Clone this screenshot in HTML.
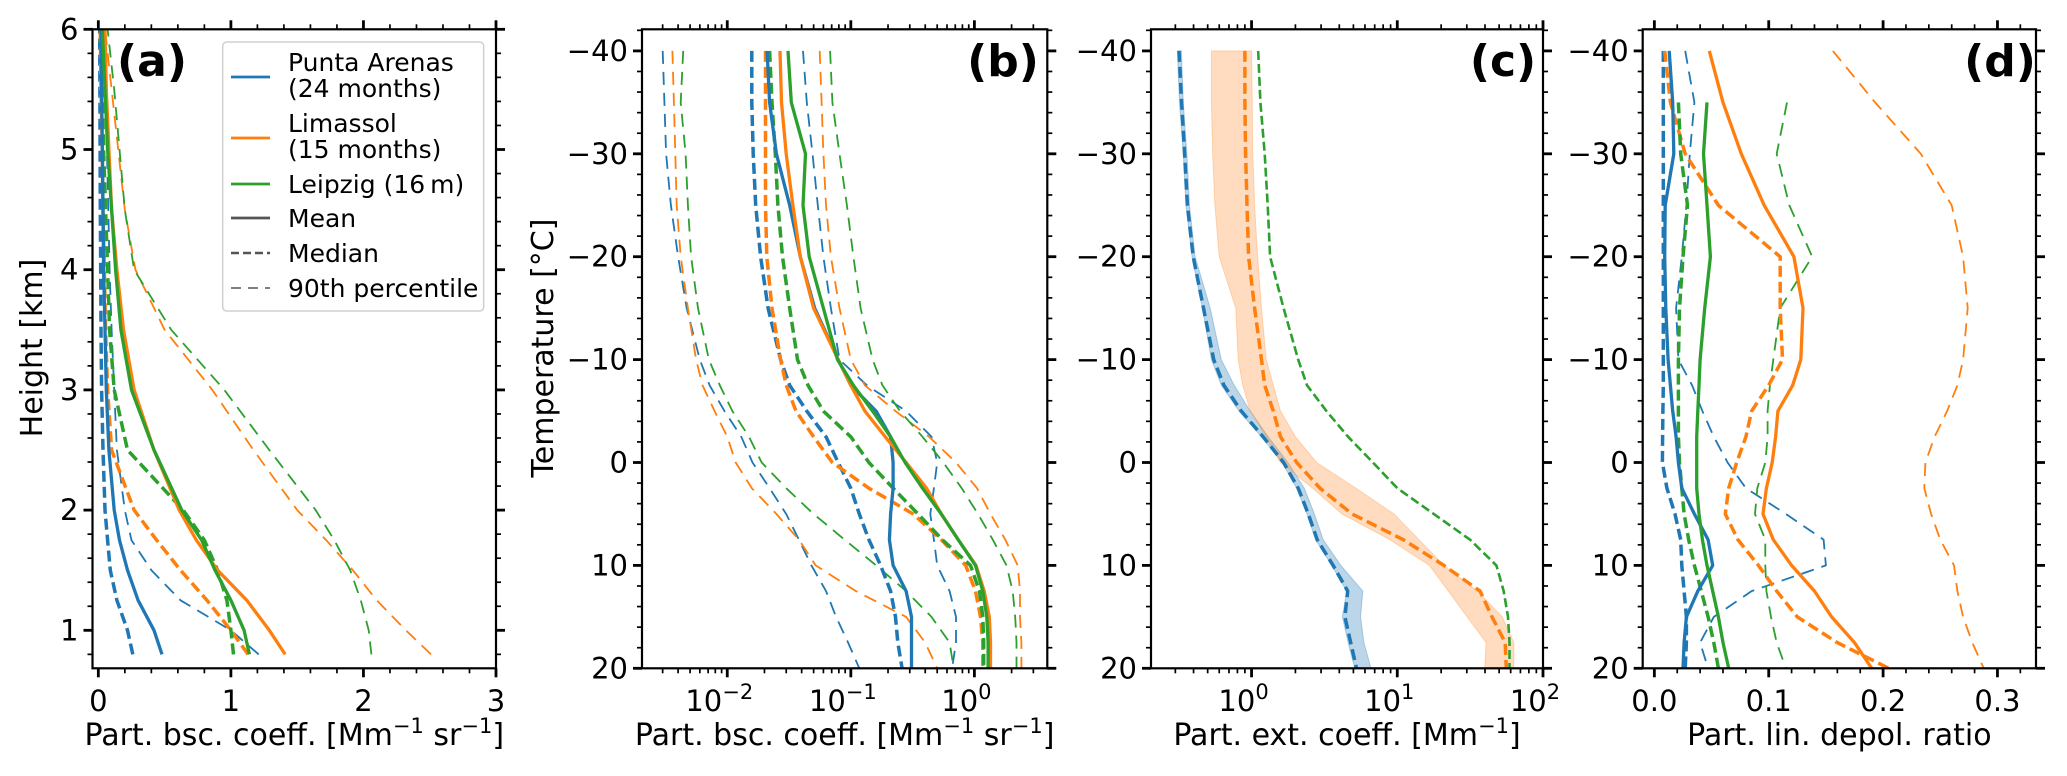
<!DOCTYPE html>
<html><head><meta charset="utf-8"><style>
html,body{margin:0;padding:0;background:#fff;}
svg{display:block;font-family:"DejaVu Sans","Liberation Sans",sans-serif;}
</style></head><body>
<svg id="fig" width="2067" height="776" viewBox="0 0 2067 776" xmlns="http://www.w3.org/2000/svg"></svg>
<script>
// ---------- DATA ----------
const heightsA = [0.8,1.0,1.25,1.5,1.75,2,2.5,3,3.5,4,4.5,5,5.5,6];
const aBlueMean   = [0.48,0.42,0.3,0.22,0.16,0.12,0.08,0.06,0.05,0.04,0.035,0.03,0.025,0.02];
const aBlueMedian = [0.26,0.22,0.14,0.09,0.07,0.05,0.035,0.025,0.02,0.018,0.015,0.013,0.012,0.01];
const aBlueP90    = [1.21,1.0,0.62,0.4,0.25,0.2,0.14,0.12,0.1,0.085,0.075,0.065,0.05,0.04];
const aOrangeMean   = [1.41,1.29,1.12,0.9,0.74,0.61,0.42,0.27,0.19,0.14,0.1,0.08,0.06,0.05];
const aOrangeMedian = [1.13,1.0,0.82,0.62,0.44,0.27,0.1,0.07,0.055,0.045,0.035,0.03,0.02,0.015];
const aOrangeP90    = [2.51,2.32,2.1,1.92,1.72,1.5,1.17,0.86,0.5,0.28,0.2,0.15,0.1,0.05];
const aGreenMean   = [1.14,1.1,1.0,0.88,0.78,0.63,0.42,0.25,0.17,0.13,0.1,0.07,0.05,0.03];
const aGreenMedian = [1.02,1.0,0.97,0.9,0.8,0.64,0.22,0.12,0.085,0.07,0.055,0.04,0.03,0.02];
const aGreenP90    = [2.06,2.04,1.98,1.9,1.78,1.64,1.29,0.95,0.55,0.27,0.2,0.16,0.12,0.07];

const temps = [-40,-35,-30,-25,-20,-15,-10,-7.5,-5,-2.5,0,2.5,5,7.5,10,12.5,15,17.5,20];
// panel b
const bBlueMean   = [0.021,0.022,0.025,0.032,0.039,0.051,0.079,0.10,0.16,0.21,0.22,0.22,0.21,0.205,0.22,0.28,0.31,0.31,0.31];
const bOrangeMean = [0.0267,0.0275,0.030,0.034,0.039,0.050,0.079,0.10,0.13,0.19,0.28,0.41,0.54,0.74,1.03,1.2,1.32,1.35,1.35];
const bGreenMean  = [0.031,0.033,0.043,0.041,0.046,0.060,0.078,0.105,0.15,0.21,0.275,0.38,0.54,0.74,1.02,1.17,1.26,1.29,1.29];
const bBlueMedian   = [0.0158,0.0158,0.0162,0.017,0.0186,0.0214,0.027,0.032,0.044,0.063,0.079,0.10,0.117,0.14,0.174,0.21,0.23,0.24,0.26];
const bOrangeMedian = [0.0204,0.0204,0.0204,0.0204,0.0209,0.023,0.027,0.030,0.036,0.05,0.071,0.14,0.32,0.54,0.85,1.02,1.12,1.17,1.17];
const bGreenMedian  = [0.022,0.023,0.0245,0.0257,0.028,0.032,0.037,0.045,0.060,0.10,0.14,0.22,0.35,0.55,0.93,1.1,1.17,1.19,1.19];
const bBlueP10   = [0.003,0.0031,0.0032,0.0035,0.004,0.0047,0.006,0.0072,0.0095,0.013,0.016,0.022,0.030,0.038,0.048,0.063,0.076,0.095,0.117];
const bOrangeP10 = [0.0036,0.0037,0.0038,0.0039,0.0042,0.0048,0.0056,0.0063,0.0079,0.010,0.0117,0.0158,0.025,0.038,0.052,0.11,0.28,0.40,0.50];
const bGreenP10  = [0.0044,0.0042,0.0046,0.0048,0.0051,0.0058,0.0071,0.0087,0.011,0.015,0.019,0.030,0.050,0.089,0.16,0.28,0.45,0.63,0.68];
const bBlueP90   = [0.041,0.044,0.049,0.054,0.060,0.069,0.081,0.135,0.28,0.45,0.50,0.47,0.44,0.47,0.50,0.63,0.71,0.71,0.66];
const bOrangeP90 = [0.056,0.058,0.060,0.063,0.069,0.081,0.10,0.13,0.23,0.43,0.71,1.05,1.35,1.78,2.24,2.34,2.34,2.4,2.4];
const bGreenP90  = [0.068,0.071,0.081,0.093,0.105,0.12,0.15,0.18,0.25,0.38,0.56,0.79,1.07,1.41,1.82,2.04,2.14,2.19,2.19];
// panel c
const cBlueMedian = [0.318,0.331,0.347,0.363,0.398,0.468,0.55,0.646,0.851,1.2,1.66,2.09,2.45,2.82,3.63,4.57,4.37,4.79,5.25];
const cBlueLo = [0.31,0.32,0.34,0.355,0.39,0.46,0.53,0.62,0.82,1.17,1.62,2.04,2.4,2.75,3.55,4.5,4.2,4.6,5.1];
const cBlueHi = [0.33,0.34,0.36,0.375,0.41,0.52,0.62,0.76,0.98,1.3,1.78,2.3,2.7,3.1,4.1,5.8,5.6,5.9,6.6];
const cOrangeMedian = [0.90,0.90,0.91,0.93,0.955,1.05,1.17,1.23,1.41,1.58,2.04,2.95,4.9,11,20.9,37,44.7,55,56];
const cOrangeLo = [0.53,0.53,0.54,0.56,0.60,0.78,0.81,0.87,0.98,1.26,1.58,2.63,4.17,8.9,16.6,22.4,30.2,40.7,39.8];
const cOrangeHi = [1.0,1.01,1.02,1.05,1.10,1.17,1.26,1.41,1.58,2.0,2.8,5.2,9.5,14.1,20.9,35.5,52.5,63,63];
const cGreenMedian = [1.11,1.15,1.23,1.29,1.34,1.66,2.09,2.4,3.27,4.6,6.8,10,17.8,31.6,47.9,53.7,57.5,58.9,58.9];
// panel d
const dBlueMean   = [0.013,0.016,0.017,0.0095,0.009,0.01,0.012,0.014,0.016,0.019,0.021,0.024,0.035,0.047,0.051,0.038,0.028,0.026,0.025];
const dOrangeMean = [0.048,0.06,0.076,0.096,0.122,0.13,0.128,0.121,0.108,0.106,0.103,0.098,0.095,0.104,0.12,0.14,0.155,0.175,0.19];
const dGreenMean  = [null,0.046,0.043,0.046,0.049,0.044,0.040,0.039,0.038,0.037,0.037,0.037,0.039,0.042,0.046,0.051,0.056,0.06,0.065];
const dBlueMedian   = [0.0078,0.0078,0.0078,0.0078,0.0078,0.0078,0.0078,0.0078,0.0075,0.0072,0.007,0.011,0.018,0.023,0.024,0.026,0.028,0.028,0.027];
const dOrangeMedian = [0.009,0.014,0.027,0.056,0.11,0.11,0.112,0.10,0.085,0.08,0.072,0.065,0.062,0.073,0.091,0.107,0.125,0.16,0.205];
const dGreenMedian  = [null,0.021,0.023,0.029,0.025,0.022,0.021,0.021,0.021,0.021,0.022,0.024,0.026,0.03,0.035,0.041,0.047,0.052,0.056];
const dBlueP90   = [0.027,0.035,0.031,0.028,0.024,0.019,0.021,0.033,0.042,0.052,0.064,0.08,0.115,0.148,0.15,0.085,0.052,0.04,0.047];
const dOrangeP90 = [0.156,0.193,0.233,0.26,0.27,0.274,0.27,0.265,0.256,0.245,0.237,0.236,0.242,0.25,0.262,0.265,0.27,0.278,0.288];
const dGreenP90  = [null,0.116,0.107,0.118,0.138,0.11,0.104,0.101,0.099,0.099,0.097,0.09,0.088,0.097,0.097,0.098,0.102,0.107,0.115];

// ---------- DRAWING ----------
const NS='http://www.w3.org/2000/svg';
const svg=document.getElementById('fig');
const BLUE='#1f77b4', ORANGE='#ff7f0e', GREEN='#2ca02c';
const TICKFS=29, TITLEFS=30;
function mk(tag,attrs,parent){const e=document.createElementNS(NS,tag);for(const k in attrs)e.setAttribute(k,attrs[k]);(parent||svg).appendChild(e);return e;}

const TOP=29.3, BOT=668.3;
const P={
 a:{x0:92.5,x1:496,vmin:-0.044,vmax:3.0,log:false,ymin:0.684,ymax:6.0,name:'panel-a'},
 b:{x0:642,x1:1047.3,vmin:-2.69,vmax:0.59,log:true,ymin:20,ymax:-42.1,name:'panel-b'},
 c:{x0:1151,x1:1543,vmin:-0.69,vmax:2.0,log:true,ymin:20,ymax:-42.1,name:'panel-c'},
 d:{x0:1642.7,x1:2036,vmin:-0.0102,vmax:0.3337,log:false,ymin:20,ymax:-42.1,name:'panel-d'}
};
function sx(p,v){const t=p.log?Math.log10(v):v;return p.x0+(t-p.vmin)/(p.vmax-p.vmin)*(p.x1-p.x0);}
function sy(p,v){return BOT-(v-p.ymin)/(p.ymax-p.ymin)*(BOT-TOP);}

function drawLine(g,p,ys,xs,color,style,name){
  let d='';let first=true;
  for(let i=0;i<ys.length;i++){if(xs[i]==null)continue;d+=(first?'M':'L')+sx(p,xs[i]).toFixed(1)+' '+sy(p,ys[i]).toFixed(1)+' ';first=false;}
  const a={d:d,fill:'none',stroke:color,'stroke-linejoin':'round'};
  if(style==='mean'){a['stroke-width']=3.3;}
  else if(style==='median'){a['stroke-width']=3.5;a['stroke-dasharray']='11 5';}
  else {a['stroke-width']=1.8;a['stroke-dasharray']='13 8';}
  const e=mk('path',a,g);
  
  
  return e;
}
function drawBand(g,p,ys,lo,hi,color,name){
  let d='';
  for(let i=0;i<ys.length;i++)d+=(i?'L':'M')+sx(p,lo[i]).toFixed(1)+' '+sy(p,ys[i]).toFixed(1)+' ';
  for(let i=ys.length-1;i>=0;i--)d+='L'+sx(p,hi[i]).toFixed(1)+' '+sy(p,ys[i]).toFixed(1)+' ';
  const e=mk('path',{d:d+'Z',fill:color,'fill-opacity':0.3,stroke:color,'stroke-opacity':0.3,'stroke-width':1},g);
  
  
}
function tickX(g,p,v,major){const x=sx(p,v);const L=major?9:5,w=major?2.8:1.7;
  mk('line',{x1:x,x2:x,y1:BOT,y2:BOT+L,stroke:'#000','stroke-width':w},g);
  mk('line',{x1:x,x2:x,y1:TOP,y2:TOP-L,stroke:'#000','stroke-width':w},g);}
function tickY(g,p,v,major){const y=sy(p,v);const L=major?9:5,w=major?2.8:1.7;
  mk('line',{x1:p.x0,x2:p.x0-L,y1:y,y2:y,stroke:'#000','stroke-width':w},g);
  mk('line',{x1:p.x1,x2:p.x1+L,y1:y,y2:y,stroke:'#000','stroke-width':w},g);}
function label(g,x,y,txt){const t=mk('text',{x:x,y:y,'font-size':TICKFS,'text-anchor':'middle',fill:'#000'},g);t.textContent=txt;return t;}
function frame(p){const g=mk('g',{});return g;}
function spines(g,p){const r=mk('rect',{x:p.x0,y:TOP,width:p.x1-p.x0,height:BOT-TOP,fill:'none',stroke:'#000','stroke-width':2.2},g);
  }
function logTicks(g,p,labels){
  for(let e=Math.floor(p.vmin);e<=Math.ceil(p.vmax);e++){
    for(let m=1;m<10;m++){const v=m*Math.pow(10,e);const lv=Math.log10(v);if(lv<p.vmin-1e-9||lv>p.vmax+1e-9)continue;tickX(g,p,v,m===1);}
  }
  labels.forEach(e=>{const x=sx(p,Math.pow(10,e));const t=mk('text',{x:x-8,y:711,'font-size':TICKFS,'text-anchor':'middle'},g);
    const a=mk('tspan',{},t);a.textContent='10';
    const s=mk('tspan',{dy:-12,'font-size':21},t);s.textContent=(e<0?'\u2212':'')+Math.abs(e);});
}
function tempTicks(g,p){
  for(let t=-42;t<=20;t+=2){ if(t<p.ymax) continue; tickY(g,p,t,t%10===0);}
  for(let t=-40;t<=20;t+=10){const lab=mk('text',{x:p.x0-14,y:sy(p,t)+10,'font-size':TICKFS,'text-anchor':'end'},g);lab.textContent=(t<0?'\u2212':'')+Math.abs(t);}
}
// parts: [text, isSuperscript]
function xtitle(g,x,parts){const t=mk('text',{x:x,y:745,'font-size':TITLEFS,'text-anchor':'middle'},g);
  let sup=false;
  parts.forEach(pt=>{const a={};
    if(pt[1]&&!sup){a.dy=-12;a['font-size']=21;sup=true;}
    else if(pt[1]&&sup){a['font-size']=21;}
    else if(!pt[1]&&sup){a.dy=12;a['font-size']=TITLEFS;sup=false;}
    else {a['font-size']=TITLEFS;}
    const s=mk('tspan',a,t);s.textContent=pt[0];});
  }
function panelLabel(g,x,txt){const t=mk('text',{x:x,y:76,'font-size':44,'font-weight':'bold','text-anchor':'middle'},g);t.textContent=txt;
  }
const bscParts=[['Part. bsc. coeff. [Mm',false],['\u22121',true],[' sr',false],['\u22121',true],[']',false]];

// Panel a
(function(){const p=P.a,g=frame(p);
  drawLine(g,p,heightsA,aBlueP90,BLUE,'p90','blue-p90-line');
  drawLine(g,p,heightsA,aOrangeP90,ORANGE,'p90','orange-p90-line');
  drawLine(g,p,heightsA,aGreenP90,GREEN,'p90','green-p90-line');
  drawLine(g,p,heightsA,aBlueMedian,BLUE,'median','blue-median-line');
  drawLine(g,p,heightsA,aOrangeMedian,ORANGE,'median','orange-median-line');
  drawLine(g,p,heightsA,aGreenMedian,GREEN,'median','green-median-line');
  drawLine(g,p,heightsA,aBlueMean,BLUE,'mean','blue-mean-line');
  drawLine(g,p,heightsA,aOrangeMean,ORANGE,'mean','orange-mean-line');
  drawLine(g,p,heightsA,aGreenMean,GREEN,'mean','green-mean-line');
  spines(g,p);
  for(let i=0;i<=15;i++){const v=i*0.2;tickX(g,p,v,i%5===0);}
  [0,1,2,3].forEach(v=>label(g,sx(p,v),711,String(v)));
  for(let i=4;i<=30;i++){const h=i*0.2;if(h<p.ymin)continue;tickY(g,p,h,i%5===0);}
  [1,2,3,4,5,6].forEach(h=>{const t=mk('text',{x:p.x0-14,y:sy(p,h)+10,'font-size':TICKFS,'text-anchor':'end'},g);t.textContent=h;});
  xtitle(g,(p.x0+p.x1)/2,bscParts);
  const yt=mk('text',{x:0,y:0,'font-size':TITLEFS,'text-anchor':'middle',transform:'translate(42,348) rotate(-90)'},g);yt.textContent='Height [km]';
  
  panelLabel(g,152,'(a)');
  // legend
  const lg=mk('g',{},g);
  mk('rect',{x:222.7,y:42,width:261,height:269,rx:4,fill:'#fff','fill-opacity':0.85,stroke:'#d0d0d0','stroke-width':1.5},lg);
  const entries=[[BLUE,'mean',77,['Punta Arenas','(24 months)']],[ORANGE,'mean',138,['Limassol','(15 months)']],[GREEN,'mean',184,['Leipzig (16\u2009m)']],
    ['#555','mean',218,['Mean']],['#555','median',253,['Median']],['#555','p90',288,['90th percentile']]];
  entries.forEach(en=>{const e=mk('g',{},lg);
    const a={x1:231,x2:270,y1:en[2],y2:en[2],stroke:en[0]};
    if(en[1]==='mean')a['stroke-width']=2.8;else if(en[1]==='median'){a['stroke-width']=2.6;a['stroke-dasharray']='8 4';}else{a['stroke-width']=1.5;a['stroke-dasharray']='10 7';}
    mk('line',a,e);
    en[3].forEach((tx,i)=>{const t=mk('text',{x:288,y:(en[3].length===2?en[2]-6:en[2]+9)+i*26,'font-size':25},e);t.textContent=tx;});
  });
})();

// Panel b
(function(){const p=P.b,g=frame(p);
  [[bBlueP10,BLUE,'blue-p10-line'],[bOrangeP10,ORANGE,'orange-p10-line'],[bGreenP10,GREEN,'green-p10-line'],
   [bBlueP90,BLUE,'blue-p90-line'],[bOrangeP90,ORANGE,'orange-p90-line'],[bGreenP90,GREEN,'green-p90-line']].forEach(s=>drawLine(g,p,temps,s[0],s[1],'p90',s[2]));
  drawLine(g,p,temps,bBlueMedian,BLUE,'median','blue-median-line');
  drawLine(g,p,temps,bOrangeMedian,ORANGE,'median','orange-median-line');
  drawLine(g,p,temps,bGreenMedian,GREEN,'median','green-median-line');
  drawLine(g,p,temps,bBlueMean,BLUE,'mean','blue-mean-line');
  drawLine(g,p,temps,bOrangeMean,ORANGE,'mean','orange-mean-line');
  drawLine(g,p,temps,bGreenMean,GREEN,'mean','green-mean-line');
  spines(g,p);logTicks(g,p,[-2,-1,0]);tempTicks(g,p);
  xtitle(g,(p.x0+p.x1)/2,bscParts);
  const yt=mk('text',{x:0,y:0,'font-size':TITLEFS,'text-anchor':'middle',transform:'translate(553,348) rotate(-90)'},g);yt.textContent='Temperature [\u00b0C]';
  
  panelLabel(g,1003,'(b)');
})();

// Panel c
(function(){const p=P.c,g=frame(p);
  drawBand(g,p,temps,cBlueLo,cBlueHi,BLUE,'blue-range-band');
  drawBand(g,p,temps,cOrangeLo,cOrangeHi,'#ff8c2a','orange-range-band');
  drawLine(g,p,temps,cBlueMedian,BLUE,'median','blue-median-line');
  drawLine(g,p,temps,cOrangeMedian,ORANGE,'median','orange-median-line');
  const gl=drawLine(g,p,temps,cGreenMedian,GREEN,'median','green-median-line');
  gl.setAttribute('stroke-width',2.6);gl.setAttribute('stroke-dasharray','9 4');
  spines(g,p);logTicks(g,p,[0,1,2]);tempTicks(g,p);
  xtitle(g,(p.x0+p.x1)/2,[['Part. ext. coeff. [Mm',false],['\u22121',true],[']',false]]);
  panelLabel(g,1503,'(c)');
})();

// Panel d
(function(){const p=P.d,g=frame(p);
  drawLine(g,p,temps,dBlueP90,BLUE,'p90','blue-p90-line');
  drawLine(g,p,temps,dOrangeP90,ORANGE,'p90','orange-p90-line');
  drawLine(g,p,temps,dGreenP90,GREEN,'p90','green-p90-line');
  drawLine(g,p,temps,dBlueMedian,BLUE,'median','blue-median-line');
  drawLine(g,p,temps,dOrangeMedian,ORANGE,'median','orange-median-line');
  drawLine(g,p,temps,dGreenMedian,GREEN,'median','green-median-line');
  drawLine(g,p,temps,dBlueMean,BLUE,'mean','blue-mean-line');
  drawLine(g,p,temps,dOrangeMean,ORANGE,'mean','orange-mean-line');
  drawLine(g,p,temps,dGreenMean,GREEN,'mean','green-mean-line');
  spines(g,p);
  for(let i=0;i<=16;i++){const v=i*0.02;if(v>p.vmax)continue;tickX(g,p,v,i%5===0);}
  [0,0.1,0.2,0.3].forEach(v=>label(g,sx(p,v),711,v.toFixed(1)));
  tempTicks(g,p);
  xtitle(g,(p.x0+p.x1)/2,[['Part. lin. depol. ratio',false]]);
  panelLabel(g,2000,'(d)');
})();
</script>
</body></html>
